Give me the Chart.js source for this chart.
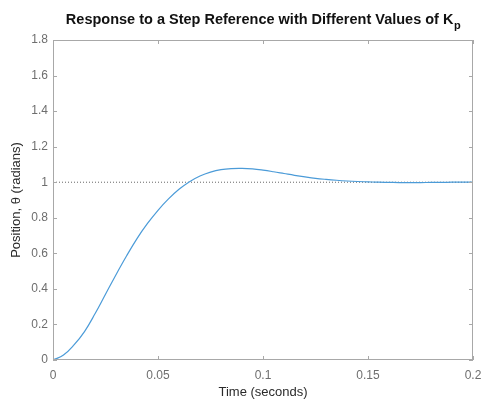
<!DOCTYPE html>
<html>
<head>
<meta charset="utf-8">
<script src="https://cdn.jsdelivr.net/npm/chart.js@4.4.1/dist/chart.umd.min.js"></script>
<style>
  html, body { margin: 0; padding: 0; background: #fff; }
  #wrap { width: 482px; height: 400px; }
</style>
</head>
<body>
<div id="wrap"><canvas id="plot"></canvas></div>
<script>
// time samples (s) and step response
const times = [0, 0.005, 0.01, 0.015, 0.02, 0.025, 0.03, 0.035, 0.04, 0.045, 0.05,
  0.055, 0.06, 0.065, 0.07, 0.075, 0.08, 0.085, 0.09, 0.095, 0.1,
  0.105, 0.11, 0.115, 0.12, 0.125, 0.13, 0.135, 0.14, 0.145, 0.15,
  0.155, 0.16, 0.165, 0.17, 0.175, 0.18, 0.185, 0.19, 0.195, 0.2];
const position = [0, 0.028, 0.085, 0.16, 0.26, 0.37, 0.48, 0.585, 0.683, 0.768, 0.842,
  0.906, 0.960, 1.003, 1.035, 1.057, 1.071, 1.077, 1.078, 1.075, 1.068,
  1.059, 1.049, 1.039, 1.030, 1.022, 1.016, 1.011, 1.007, 1.004, 1.002,
  1.000, 0.999, 0.998, 0.998, 0.998, 0.999, 0.999, 1.000, 1.000, 1.000];
const refTimes = [0, 0.2];
const refLevel = [1, 1];
const xTicks = [0, 0.05, 0.1, 0.15, 0.2];
const yTicks = [0, 0.2, 0.4, 0.6, 0.8, 1, 1.2, 1.4, 1.6, 1.8];

const FONT = "'Liberation Sans', Arial, Helvetica, sans-serif";
const BOX = '#a8a8a8';

// MATLAB style box with inward ticks, and title with subscript
const boxPlugin = {
  id: 'box',
  afterDatasetsDraw(chart) {
    const { ctx, chartArea: a, scales } = chart;
    ctx.save();
    ctx.strokeStyle = BOX;
    ctx.lineWidth = 1;
    ctx.strokeRect(a.left + 0.5, a.top + 0.5, a.right - a.left - 1, a.bottom - a.top - 1);
    ctx.beginPath();
    xTicks.forEach(v => {
      const px = Math.round(scales.x.getPixelForValue(v)) + 0.5;
      ctx.moveTo(px, a.bottom); ctx.lineTo(px, a.bottom - 4);
      ctx.moveTo(px, a.top); ctx.lineTo(px, a.top + 4);
    });
    yTicks.forEach(v => {
      const py = Math.round(scales.y.getPixelForValue(v)) + 0.5;
      ctx.moveTo(a.left, py); ctx.lineTo(a.left + 4, py);
      ctx.moveTo(a.right, py); ctx.lineTo(a.right - 4, py);
    });
    ctx.stroke();

    // title
    const main = 'Response to a Step Reference with Different Values of K';
    ctx.fillStyle = '#111';
    ctx.font = 'bold 14.5px ' + FONT;
    const w1 = ctx.measureText(main).width;
    ctx.font = 'bold 11px ' + FONT;
    const w2 = ctx.measureText('p').width;
    const cx = (a.left + a.right) / 2;
    let x0 = cx - (w1 + w2) / 2;
    ctx.textBaseline = 'alphabetic';
    ctx.textAlign = 'left';
    ctx.font = 'bold 14.5px ' + FONT;
    ctx.fillText(main, x0, 24);
    ctx.font = 'bold 11px ' + FONT;
    ctx.fillText('p', x0 + w1 + 0.5, 29);
    ctx.restore();
  }
};

new Chart(document.getElementById('plot'), {
  type: 'line',
  data: {
    datasets: [{
      label: 'response',
      data: times.map((t, i) => ({ x: t, y: position[i] })),
      borderColor: '#4b9bd8',
      borderWidth: 1.2,
      pointRadius: 0,
      tension: 0.4,
      fill: false
    },
    {
      label: 'reference',
      data: refTimes.map((t, i) => ({ x: t, y: refLevel[i] })),
      borderColor: '#666',
      borderWidth: 1,
      borderDash: [1, 2],
      pointRadius: 0,
      fill: false
    }]
  },
  options: {
    responsive: true,
    maintainAspectRatio: false,
    animation: false,
    layout: { padding: { left: 0, right: 9, top: 40, bottom: 0 } },
    plugins: {
      legend: { display: false },
      tooltip: { enabled: false },
      title: { display: false }
    },
    scales: {
      x: {
        type: 'linear',
        min: 0,
        max: 0.2,
        afterFit: s => { s.height = 40; s.paddingLeft = 0; s.paddingRight = 0; },
        afterBuildTicks: s => { s.ticks = xTicks.map(v => ({ value: v })); },
        grid: { display: false, drawTicks: false },
        border: { display: false },
        ticks: {
          color: '#6e6e6e',
          padding: 8,
          maxRotation: 0,
          font: { family: FONT, size: 12 },
          callback: v => String(v)
        },
        title: {
          display: true,
          text: 'Time (seconds)',
          color: '#2a2a2a',
          font: { family: FONT, size: 13 },
          padding: { top: 0, bottom: 0 }
        }
      },
      y: {
        type: 'linear',
        min: 0,
        max: 1.8,
        afterFit: s => { s.width = 53; s.paddingTop = 0; s.paddingBottom = 0; },
        afterBuildTicks: s => { s.ticks = yTicks.map(v => ({ value: v })); },
        grid: { display: false, drawTicks: false },
        border: { display: false },
        ticks: {
          color: '#6e6e6e',
          padding: 5,
          font: { family: FONT, size: 12 },
          callback: v => String(v)
        },
        title: {
          display: true,
          text: 'Position, θ (radians)',
          color: '#2a2a2a',
          font: { family: FONT, size: 13 },
          padding: { top: 9, bottom: 0 }
        }
      }
    }
  },
  plugins: [boxPlugin]
});
</script>
</body>
</html>
